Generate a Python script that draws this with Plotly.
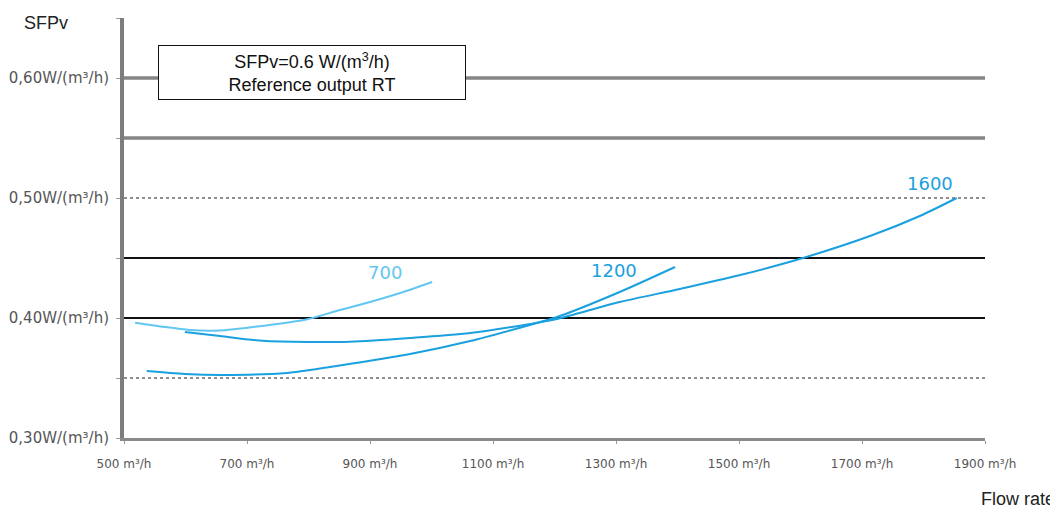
import plotly.graph_objects as go

# ---- data ----
flow_700 = [518, 559, 607, 656, 710, 798, 851, 900, 949, 1001]
sfp_700 = [0.396, 0.393, 0.390, 0.3896, 0.3925, 0.399, 0.4067, 0.4133, 0.4208, 0.430]

flow_1200 = [537, 599, 661, 765, 835, 867, 965, 1063, 1160, 1204, 1306, 1396]
sfp_1200 = [0.3558, 0.3533, 0.3525, 0.3542, 0.3592, 0.3617, 0.370, 0.3808, 0.3942, 0.4008, 0.4217, 0.4425]

flow_1600 = [599, 656, 726, 800, 867, 965, 1063, 1160, 1204, 1306, 1404, 1502, 1604, 1713, 1794, 1854]
sfp_1600 = [0.3883, 0.385, 0.381, 0.380, 0.3802, 0.3833, 0.3875, 0.395, 0.3992, 0.4133, 0.4242, 0.4358, 0.450, 0.4683, 0.485, 0.500]

series_names = ["700", "1200", "1600"]
label_pos = {"700": (924, 0.4383), "1200": (1297, 0.440), "1600": (1811, 0.5125)}

x_ticks = [500, 700, 900, 1100, 1300, 1500, 1700, 1900]
x_ticktext = [f"{v} m³/h" for v in x_ticks]

y_ticks = [0.30, 0.40, 0.50, 0.60]
y_ticktext = ["0,30W/(m³/h)", "0,40W/(m³/h)", "0,50W/(m³/h)", "0,60W/(m³/h)"]

# reference levels and their styles
grid_levels = [0.35, 0.40, 0.45, 0.50, 0.55, 0.60]
grid_styles = {
    0.35: dict(color="#8f8f8f", width=2, dash="dot"),
    0.40: dict(color="#111111", width=2, dash="solid"),
    0.45: dict(color="#111111", width=2, dash="solid"),
    0.50: dict(color="#8f8f8f", width=2, dash="dot"),
    0.55: dict(color="#858585", width=3.5, dash="solid"),
    0.60: dict(color="#858585", width=3.5, dash="solid"),
}

light_blue = "#62C6F2"
blue = "#1AA0DE"
colors = {"700": light_blue, "1200": blue, "1600": blue}
data = {"700": (flow_700, sfp_700), "1200": (flow_1200, sfp_1200), "1600": (flow_1600, sfp_1600)}

fig = go.Figure()
for name in series_names:
    xs, ys = data[name]
    fig.add_trace(go.Scatter(x=xs, y=ys, mode="lines", name=name,
                             line=dict(color=colors[name], width=2, shape="spline", smoothing=0.8),
                             hoverinfo="x+y+name"))

for lvl in grid_levels:
    st = grid_styles[lvl]
    fig.add_shape(type="line", xref="paper", yref="y", x0=0, x1=1, y0=lvl, y1=lvl,
                  line=dict(color=st["color"], width=st["width"], dash=st["dash"]), layer="below")

annotations = []
for name in series_names:
    lx, ly = label_pos[name]
    annotations.append(dict(x=lx, y=ly, xref="x", yref="y", text=name, showarrow=False,
                            xanchor="center", yanchor="middle",
                            font=dict(family="DejaVu Sans", size=18, color=colors[name])))

annotations.append(dict(x=0.218, y=0.871, xref="paper", yref="paper",
                        xanchor="center", yanchor="middle",
                        text="SFPv=0.6 W/(m<sup>3</sup>/h)<br>Reference output RT",
                        showarrow=False, align="center",
                        font=dict(family="Liberation Sans, Arial", size=18, color="#111111"),
                        bgcolor="white", bordercolor="#111111", borderwidth=1, borderpad=3,
                        width=300, height=47))
annotations.append(dict(x=-0.1185, y=0.989, xref="paper", yref="paper", text="SFPv",
                        showarrow=False, xanchor="left", yanchor="middle",
                        font=dict(family="Liberation Sans, Arial", size=18, color="#222222")))
annotations.append(dict(x=1.0836, y=-0.145, xref="paper", yref="paper", text="Flow rate",
                        showarrow=False, xanchor="right", yanchor="middle",
                        font=dict(family="Liberation Sans, Arial", size=18, color="#222222")))

# the page body adds an 8px offset, so the figure is 8px smaller and margins shifted
fig.update_layout(
    width=1050, height=501,
    margin=dict(l=116, r=73, t=10, b=71, autoexpand=False),
    paper_bgcolor="white", plot_bgcolor="white",
    showlegend=False,
    annotations=annotations,
    xaxis=dict(range=[500, 1900], tickvals=x_ticks, ticktext=x_ticktext, automargin=False,
               showgrid=False, zeroline=False, showline=True, linecolor="#8a8a8a", linewidth=3,
               ticks="outside", ticklen=3, tickcolor="#9a9a9a",
               ticklabelstandoff=10,
               tickfont=dict(family="DejaVu Sans", size=12, color="#555555")),
    yaxis=dict(range=[0.30, 0.65], tickvals=y_ticks, ticktext=y_ticktext, automargin=False,
               showgrid=False, zeroline=False, showline=True, linecolor="#7d7d7d", linewidth=4,
               ticks="outside", ticklen=4, tickcolor="#9a9a9a",
               ticklabelstandoff=4,
               minor=dict(ticks="outside", dtick=0.05, ticklen=4, tickcolor="#9a9a9a", showgrid=False),
               tickfont=dict(family="DejaVu Sans", size=15, color="#555555")),
)

fig.write_html("out.html")
